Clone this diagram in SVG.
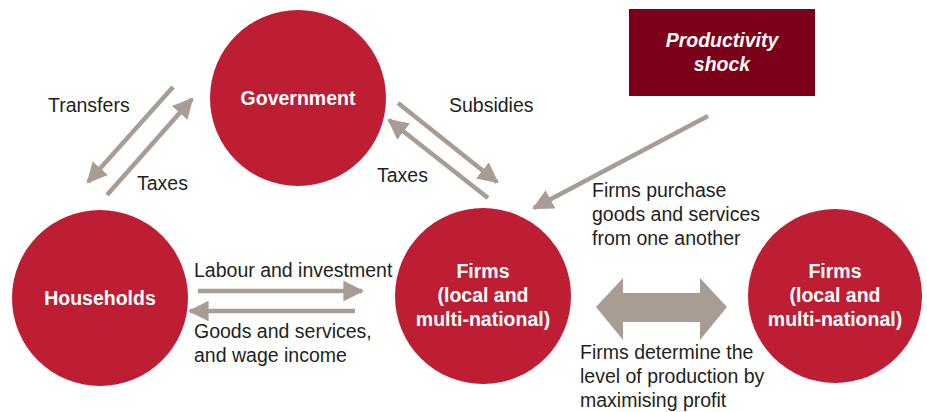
<svg xmlns="http://www.w3.org/2000/svg" width="927" height="412" viewBox="0 0 927 412">
<defs>
<style>
.node{fill:#be1e33}
.lbl{font-family:"Liberation Sans",Arial,sans-serif;font-size:19.5px;font-weight:bold;fill:#fff;text-anchor:middle}
.txt{font-family:"Liberation Sans",Arial,sans-serif;font-size:19.5px;fill:#231f20}
.ln{stroke:#a89d94;stroke-width:4.5;fill:none}
.hd{fill:#a89d94}
</style>
<marker id="ah" viewBox="0 0 10 10" refX="9" refY="5" markerWidth="4.6" markerHeight="4.6" markerUnits="strokeWidth" orient="auto">
<path d="M0,0 L10,5 L0,10 Z" class="hd"/>
</marker>
</defs>
<rect width="927" height="412" fill="#fff"/>
<g id="government"><circle class="node" cx="298" cy="98" r="88"/><text class="lbl" x="298" y="105">Government</text></g>
<g id="households"><circle class="node" cx="100" cy="298" r="88"/><text class="lbl" x="100" y="305">Households</text></g>
<g id="firms-local"><circle class="node" cx="483" cy="296" r="88"/><text class="lbl" x="483" y="278">Firms</text><text class="lbl" x="483" y="302">(local and</text><text class="lbl" x="483" y="326">multi-national)</text></g>
<g id="firms-other"><circle class="node" cx="835" cy="296" r="87"/><text class="lbl" x="835" y="278">Firms</text><text class="lbl" x="835" y="302">(local and</text><text class="lbl" x="835" y="326">multi-national)</text></g>
<g id="productivity-shock"><rect x="629" y="9" width="186" height="87" fill="#7d0019"/><text class="lbl" x="722" y="47" font-style="italic">Productivity</text><text class="lbl" x="722" y="71" font-style="italic">shock</text></g>
<g id="connectors">
<line class="ln" x1="173" y1="87" x2="88" y2="182" marker-end="url(#ah)"/>
<line class="ln" x1="107" y1="195" x2="192" y2="99" marker-end="url(#ah)"/>
<line class="ln" x1="398" y1="103" x2="497" y2="182" marker-end="url(#ah)"/>
<line class="ln" x1="488" y1="198" x2="389" y2="120" marker-end="url(#ah)"/>
<line class="ln" x1="708" y1="116" x2="534" y2="208" marker-end="url(#ah)"/>
<line class="ln" x1="198" y1="291" x2="362" y2="291" marker-end="url(#ah)"/>
<line class="ln" x1="355" y1="311" x2="190" y2="311" marker-end="url(#ah)"/>
<path class="hd" d="M596,307 L623,278 L623,293 L700,293 L700,278 L727,307 L700,340 L700,322 L623,322 L623,340 Z"/>
</g>
<g id="labels">
<text class="txt" x="48" y="112">Transfers</text>
<text class="txt" x="137" y="190">Taxes</text>
<text class="txt" x="449" y="112">Subsidies</text>
<text class="txt" x="377" y="182">Taxes</text>
<text class="txt" x="592" y="197">Firms purchase</text>
<text class="txt" x="592" y="221">goods and services</text>
<text class="txt" x="592" y="245">from one another</text>
<text class="txt" x="194" y="277">Labour and investment</text>
<text class="txt" x="194" y="338">Goods and services,</text>
<text class="txt" x="194" y="362">and wage income</text>
<text class="txt" x="580" y="359">Firms determine the</text>
<text class="txt" x="580" y="383">level of production by</text>
<text class="txt" x="580" y="407">maximising profit</text>
</g>
</svg>
